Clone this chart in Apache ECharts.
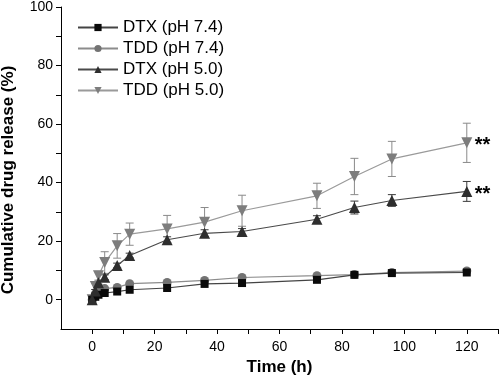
<!DOCTYPE html>
<html>
<head>
  <meta charset="utf-8">
  <title>Cumulative drug release</title>
  <script src="https://cdn.jsdelivr.net/npm/echarts@6/dist/echarts.min.js"></script>
</head>
<body style="margin:0">
  <div id="main" style="width:500px;height:385px;"></div>
  <script type="text/javascript">
    // time points (h)
    var hours = [0, 1, 2, 4, 8, 12, 24, 36, 48, 72, 84, 96, 120];

    // cumulative release (%)
    var dtx74 = [0, 1.0, 1.7, 2.3, 2.8, 3.4, 4.0, 5.4, 5.7, 6.8, 8.5, 9.1, 9.3];
    var tdd74 = [0, 2.0, 3.0, 3.8, 4.2, 5.5, 5.9, 6.6, 7.6, 8.2, 8.6, 9.3, 9.8];
    var dtx50 = [0, 3.0, 5.8, 7.7, 11.7, 15.1, 20.5, 22.7, 23.3, 27.5, 31.5, 33.9, 37.0];
    var tdd50 = [0, 4.5, 8.2, 12.7, 18.4, 22.4, 24.2, 26.5, 30.4, 35.5, 42.1, 48.1, 53.6];

    // error bars (+/-)
    var dtx50Err = [0, 0.5, 0.5, 0.8, 0.8, 0.8, 1.0, 1.2, 1.0, 1.2, 2.2, 2.0, 3.4];
    var tdd50Err = [0, 1.0, 1.5, 3.7, 4.2, 3.8, 4.6, 5.0, 5.3, 4.3, 6.2, 6.0, 6.7];

    var seriesNames = ['DTX (pH 7.4)', 'TDD (pH 7.4)', 'DTX (pH 5.0)', 'TDD (pH 5.0)'];
    var xLabelTicks = [0, 20, 40, 60, 80, 100, 120];
    var xTicks = [0, 10, 20, 30, 40, 50, 60, 70, 80, 90, 100, 110, 120, 130];
    var yLabelTicks = [0, 20, 40, 60, 80, 100];
    var yTicks = [0, 10, 20, 30, 40, 50, 60, 70, 80, 90, 100];

    var font = 'Arial, "Liberation Sans", sans-serif';

    function pairs(vals) {
      return hours.map(function (h, i) { return [h, vals[i]]; });
    }

    function errorSeries(vals, errs, color) {
      return {
        type: 'custom',
        silent: true,
        z: 1,
        data: hours.map(function (h, i) { return [h, vals[i] - errs[i], vals[i] + errs[i]]; }),
        encode: { x: 0, y: [1, 2] },
        renderItem: function (params, api) {
          var lo = api.coord([api.value(0), api.value(1)]);
          var hi = api.coord([api.value(0), api.value(2)]);
          var w = 4;
          var st = { stroke: color, lineWidth: 1 };
          return {
            type: 'group',
            children: [
              { type: 'line', shape: { x1: lo[0], y1: lo[1], x2: hi[0], y2: hi[1] }, style: st },
              { type: 'line', shape: { x1: hi[0] - w, y1: hi[1], x2: hi[0] + w, y2: hi[1] }, style: st },
              { type: 'line', shape: { x1: lo[0] - w, y1: lo[1], x2: lo[0] + w, y2: lo[1] }, style: st }
            ]
          };
        }
      };
    }

    function starMark(vals) {
      return {
        symbol: 'circle',
        symbolSize: 0,
        silent: true,
        label: {
          show: true, position: 'right', distance: 8, formatter: '**',
          color: '#000', fontSize: 20, fontWeight: 'bold', fontFamily: font, offset: [0, 3]
        },
        data: [{ coord: [hours[hours.length - 1], vals[vals.length - 1]] }]
      };
    }

    var myChart = echarts.init(document.getElementById('main'));

    var option = {
      animation: false,
      grid: { left: 61, right: 2, top: 7, bottom: 56, outerBoundsMode: 'none' },
      legend: {
        orient: 'vertical',
        left: 72,
        top: 14,
        itemWidth: 40,
        itemHeight: 9,
        itemGap: 4,
        data: seriesNames,
        textStyle: { fontSize: 17, lineHeight: 17, color: '#000', fontFamily: font }
      },
      xAxis: {
        type: 'value',
        min: -10,
        max: 130,
        name: 'Time (h)',
        nameLocation: 'middle',
        nameGap: 28,
        nameTextStyle: { fontSize: 17, fontWeight: 'bold', color: '#000', fontFamily: font },
        axisLine: { onZero: false, lineStyle: { color: '#000', width: 1 } },
        axisTick: { length: 5, customValues: xTicks, lineStyle: { color: '#000' } },
        axisLabel: { customValues: xLabelTicks, margin: 11, fontSize: 14, color: '#000', fontFamily: font },
        splitLine: { show: false }
      },
      yAxis: {
        type: 'value',
        min: -10,
        max: 100,
        name: 'Cumulative drug release (%)',
        nameLocation: 'middle',
        nameGap: 44,
        nameTextStyle: { fontSize: 17, fontWeight: 'bold', color: '#000', fontFamily: font, padding: [0, 24, 0, 0] },
        axisLine: { onZero: false, lineStyle: { color: '#000', width: 1 } },
        axisTick: { length: 5, customValues: yTicks, lineStyle: { color: '#000' } },
        axisLabel: { customValues: yLabelTicks, margin: 8, fontSize: 14, color: '#000', fontFamily: font },
        splitLine: { show: false }
      },
      series: [
        errorSeries(tdd50, tdd50Err, '#8a8a8a'),
        errorSeries(dtx50, dtx50Err, '#3a3a3a'),
        {
          name: seriesNames[0], type: 'line', data: pairs(dtx74), z: 3,
          symbol: 'rect', symbolSize: 8,
          itemStyle: { color: '#0a0a0a' },
          lineStyle: { color: '#444', width: 1.2 }
        },
        {
          name: seriesNames[1], type: 'line', data: pairs(tdd74), z: 2,
          symbol: 'circle', symbolSize: 9,
          itemStyle: { color: '#737373' },
          lineStyle: { color: '#8c8c8c', width: 1.2 }
        },
        {
          name: seriesNames[2], type: 'line', data: pairs(dtx50), z: 3,
          symbol: 'triangle', symbolSize: 11,
          itemStyle: { color: '#2e2e2e' },
          lineStyle: { color: '#4a4a4a', width: 1.2 },
          markPoint: starMark(dtx50)
        },
        {
          name: seriesNames[3], type: 'line', data: pairs(tdd50), z: 2,
          symbol: 'triangle', symbolRotate: 180, symbolSize: 11,
          itemStyle: { color: '#7d7d7d' },
          lineStyle: { color: '#9a9a9a', width: 1.2 },
          markPoint: starMark(tdd50)
        }
      ]
    };

    myChart.setOption(option);
  </script>
</body>
</html>
